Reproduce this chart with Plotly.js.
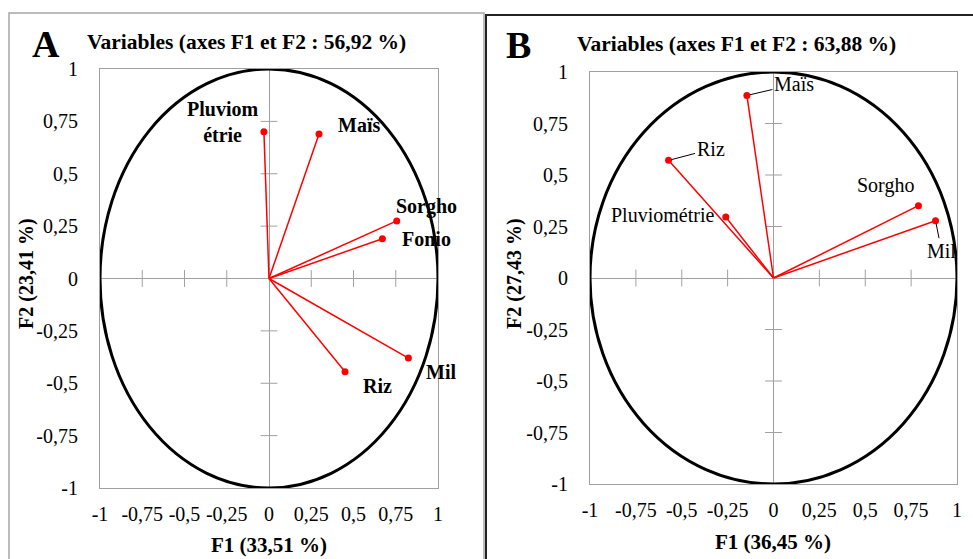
<!DOCTYPE html>
<html>
<head>
<meta charset="utf-8">
<script src="https://cdn.plot.ly/plotly-3.0.1.min.js"></script>
<style>html,body{margin:0;padding:0;background:#fff;}#chart{width:973px;height:559px;}</style>
</head>
<body>
<div id="chart"></div>
<script>
// ---- data ----
const tickVals = [-1, -0.75, -0.5, -0.25, 0, 0.25, 0.5, 0.75, 1];
const tickText = ["-1", "-0,75", "-0,5", "-0,25", "0", "0,25", "0,5", "0,75", "1"];

const panelLetters = ["A", "B"];
const panelTitles = ["Variables (axes F1 et F2 : 56,92 %)", "Variables (axes F1 et F2 : 63,88 %)"];
const xTitles = ["F1 (33,51 %)", "F1 (36,45 %)"];
const yTitles = ["F2 (23,41 %)", "F2 (27,43 %)"];

const varsA = ["Pluviom<br>étrie", "Maïs", "Sorgho", "Fonio", "Mil", "Riz"];
const f1A = [-0.03, 0.296, 0.756, 0.671, 0.825, 0.45];
const f2A = [0.70, 0.69, 0.275, 0.19, -0.38, -0.445];

const varsB = ["Maïs", "Riz", "Pluviométrie", "Sorgho", "Mil"];
const f1B = [-0.145, -0.572, -0.26, 0.79, 0.883];
const f2B = [0.886, 0.571, 0.296, 0.351, 0.278];

// ---- styling / placement ----
const W = 973, H = 559;
const FONT = '"Liberation Serif", "Times New Roman", serif';
const GRAY = '#a0a0a0';
const px = v => v / W, py = v => 1 - v / H;

// label offsets (pixels) relative to the point
const offA = {
  "Pluviom<br>étrie": [-41, 10], "Maïs": [40, 9], "Sorgho": [30, 14],
  "Fonio": [44, 0], "Mil": [33, -14], "Riz": [32, -14]
};
const offB = {
  "Maïs": {ax: 47, ay: -11, arrow: true},
  "Riz": {ax: 42, ay: -11, arrow: true},
  "Pluviométrie": {ax: -63, ay: -2, arrow: false},
  "Sorgho": {ax: -33, ay: -20, arrow: false},
  "Mil": {ax: 6, ay: 30, arrow: true}
};

function vectorTraces(xs, ys, xa, ya) {
  const lx = [], ly = [];
  xs.forEach((v, i) => { lx.push(0, v, null); ly.push(0, ys[i], null); });
  return [
    {type: 'scatter', mode: 'lines', x: lx, y: ly, xaxis: xa, yaxis: ya,
     line: {color: '#ff0000', width: 1.5}, hoverinfo: 'skip', showlegend: false, cliponaxis: false},
    {type: 'scatter', mode: 'markers', x: xs, y: ys, xaxis: xa, yaxis: ya,
     marker: {color: '#ff0000', size: 7}, showlegend: false, cliponaxis: false}
  ];
}
function crossTraces(xa, ya) {
  const nz = tickVals.filter(v => v !== 0);
  return [
    {type: 'scatter', mode: 'markers', x: nz, y: nz.map(() => 0), xaxis: xa, yaxis: ya,
     marker: {symbol: 'line-ns', size: 12, line: {color: GRAY, width: 1}}, hoverinfo: 'skip', showlegend: false, cliponaxis: false},
    {type: 'scatter', mode: 'markers', x: nz.map(() => 0), y: nz, xaxis: xa, yaxis: ya,
     marker: {symbol: 'line-ew', size: 12, line: {color: GRAY, width: 1}}, hoverinfo: 'skip', showlegend: false, cliponaxis: false}
  ];
}

const data = [].concat(
  crossTraces('x', 'y'), vectorTraces(f1A, f2A, 'x', 'y'),
  crossTraces('x2', 'y2'), vectorTraces(f1B, f2B, 'x2', 'y2')
);

function xAxis(domain, anchor) {
  return {domain: domain, anchor: anchor, range: [-1, 1], tickvals: tickVals, ticktext: tickText,
    showgrid: false, zeroline: true, zerolinecolor: GRAY, zerolinewidth: 1,
    showline: true, mirror: true, linecolor: GRAY, linewidth: 1,
    ticks: 'outside', ticklen: 8, tickcolor: 'rgba(0,0,0,0)',
    tickfont: {family: FONT, size: 20, color: '#000'}, fixedrange: true};
}
function yAxis(domain, anchor) {
  return {domain: domain, anchor: anchor, range: [-1, 1], tickvals: tickVals, ticktext: tickText,
    showgrid: false, zeroline: true, zerolinecolor: GRAY, zerolinewidth: 1,
    showline: true, mirror: true, linecolor: GRAY, linewidth: 1,
    ticks: 'outside', ticklen: 17, tickcolor: 'rgba(0,0,0,0)',
    tickfont: {family: FONT, size: 20, color: '#000'}, fixedrange: true};
}

const annotations = [];
// panel letters & titles
[[46, 44], [518, 45]].forEach((p, i) => annotations.push({xref: 'paper', yref: 'paper', x: px(p[0]), y: py(p[1]),
  text: '<b>' + panelLetters[i] + '</b>', showarrow: false, xanchor: 'center', yanchor: 'middle',
  font: {family: FONT, size: 38, color: '#000'}}));
[[246, 42], [736, 44]].forEach((p, i) => annotations.push({xref: 'paper', yref: 'paper', x: px(p[0]), y: py(p[1]),
  text: '<b>' + panelTitles[i] + '</b>', showarrow: false, xanchor: 'center', yanchor: 'middle',
  font: {family: FONT, size: 21.5, color: '#000'}}));
[[269, 545], [773, 542]].forEach((p, i) => annotations.push({xref: 'paper', yref: 'paper', x: px(p[0]), y: py(p[1]),
  text: '<b>' + xTitles[i] + '</b>', showarrow: false, xanchor: 'center', yanchor: 'middle',
  font: {family: FONT, size: 21, color: '#000'}}));
[[26, 274], [514, 274]].forEach((p, i) => annotations.push({xref: 'paper', yref: 'paper', x: px(p[0]), y: py(p[1]),
  text: '<b>' + yTitles[i] + '</b>', showarrow: false, xanchor: 'center', yanchor: 'middle', textangle: -90,
  font: {family: FONT, size: 20, color: '#000'}}));

// variable labels A (bold)
varsA.forEach((name, i) => annotations.push({xref: 'x', yref: 'y', x: f1A[i], y: f2A[i], text: '<b>' + name + '</b>',
  showarrow: false, xshift: offA[name][0], yshift: offA[name][1], xanchor: 'center', yanchor: 'middle',
  font: {family: FONT, size: 20, color: '#000'}}));
// variable labels B (regular, with leader lines)
varsB.forEach((name, i) => {
  const o = offB[name];
  const a = {xref: 'x2', yref: 'y2', x: f1B[i], y: f2B[i], text: name, xanchor: 'center', yanchor: 'middle',
    font: {family: FONT, size: 20, color: '#000'}};
  if (o.arrow) {
    Object.assign(a, {showarrow: true, arrowhead: 0, arrowwidth: 1, arrowcolor: '#000', ax: o.ax, ay: o.ay, standoff: 3});
  } else {
    Object.assign(a, {showarrow: false, xshift: o.ax, yshift: -o.ay});
  }
  annotations.push(a);
});

const shapes = [
  {type: 'circle', xref: 'x', yref: 'y', x0: -1, x1: 1, y0: -1, y1: 1, line: {color: '#000', width: 3}},
  {type: 'circle', xref: 'x2', yref: 'y2', x0: -1, x1: 1, y0: -1, y1: 1, line: {color: '#000', width: 3}},
  {type: 'rect', xref: 'paper', yref: 'paper', x0: px(9), x1: px(484), y0: py(600), y1: py(13), line: {color: '#a6a6a6', width: 1.5}},
  {type: 'rect', xref: 'paper', yref: 'paper', x0: px(486), x1: px(1000), y0: py(600), y1: py(15), line: {color: '#222', width: 2}}
];

const layout = {
  width: W, height: H, margin: {l: 0, r: 0, t: 0, b: 0},
  paper_bgcolor: '#fff', plot_bgcolor: 'rgba(0,0,0,0)', showlegend: false,
  xaxis: xAxis([px(100), px(438)], 'y'),
  yaxis: yAxis([py(488), py(69)], 'x'),
  xaxis2: xAxis([px(590), px(957)], 'y2'),
  yaxis2: yAxis([py(484), py(72)], 'x2'),
  annotations: annotations, shapes: shapes
};

Plotly.newPlot('chart', data, layout, {displayModeBar: false, staticPlot: true});
</script>
</body>
</html>
